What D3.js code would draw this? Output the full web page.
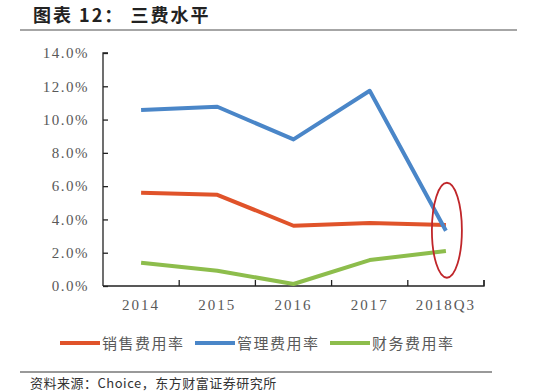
<!DOCTYPE html>
<html>
<head>
<meta charset="utf-8">
<script src="https://cdn.jsdelivr.net/npm/d3@7"></script>
<style>
body { margin: 0; background: #fff; }
</style>
</head>
<body>
<script>
var categories = ["2014", "2015", "2016", "2017", "2018Q3"];
var salesRate = [5.6, 5.48, 3.62, 3.78, 3.66];
var mgmtRate = [10.57, 10.77, 8.81, 11.73, 3.32];
var finRate = [1.4, 0.92, 0.12, 1.56, 2.1];
var yTicks = [0, 2, 4, 6, 8, 10, 12, 14];
var seriesNames = ["销售费用率", "管理费用率", "财务费用率"];
var seriesColors = ["#e0532a", "#4a86c8", "#8dbd4c"];

var width = 550, height = 391;
var plotLeft = 103, plotRight = 484, plotTop = 53, plotBottom = 286;

var svg = d3.select("body")
    .append("svg")
    .attr("width", width)
    .attr("height", height);

// title
svg.append("text")
    .attr("x", 33)
    .attr("y", 22)
    .attr("font-family", "'Noto Sans CJK SC'")
    .attr("font-weight", "bold")
    .attr("font-size", "18px")
    .attr("fill", "#222")
    .attr("letter-spacing", "2px")
    .text("图表 12： 三费水平");

svg.append("line")
    .attr("x1", 20).attr("x2", 517)
    .attr("y1", 30).attr("y2", 30)
    .attr("stroke", "#888")
    .attr("stroke-width", 1.5);

var x = d3.scaleBand()
    .domain(categories)
    .range([plotLeft, plotRight]);

var y = d3.scaleLinear()
    .domain([0, 14])
    .range([plotBottom, plotTop]);

var xAxis = d3.axisBottom(x)
    .tickSize(6)
    .tickSizeOuter(6);

var yAxis = d3.axisLeft(y)
    .tickValues(yTicks)
    .tickSize(-5)
    .tickSizeOuter(-5)
    .tickFormat(function (d) { return d.toFixed(1) + "%"; });

var gx = svg.append("g")
    .attr("transform", "translate(0," + plotBottom + ")")
    .call(xAxis);

// ticks between categories rather than centered
gx.selectAll(".tick line")
    .attr("x1", x.bandwidth() / 2)
    .attr("x2", x.bandwidth() / 2)
    .attr("y2", -6);
gx.select(".domain").attr("d", "M" + plotLeft + ",0H" + plotRight + "V-6");

gx.selectAll("text")
    .attr("y", 13)
    .attr("font-family", "'Liberation Serif'")
    .attr("font-size", "15px")
    .attr("letter-spacing", "2px")
    .attr("fill", "#595959");

var gy = svg.append("g")
    .attr("transform", "translate(" + plotLeft + ",0)")
    .call(yAxis);

gy.select(".domain").attr("d", "M5," + plotTop + "H0V" + plotBottom);

gy.selectAll("text")
    .attr("x", -14)
    .attr("font-family", "'Liberation Serif'")
    .attr("font-size", "15px")
    .attr("letter-spacing", "1.5px")
    .attr("fill", "#595959");

svg.selectAll(".domain, .tick line")
    .attr("stroke", "#222")
    .attr("stroke-width", 1.3);

var line = d3.line()
    .x(function (d, i) { return x(categories[i]) + x.bandwidth() / 2; })
    .y(function (d) { return y(d); });

var series = [salesRate, mgmtRate, finRate];

svg.selectAll(".series")
    .data(series)
    .enter()
    .append("path")
    .attr("class", "series")
    .attr("d", line)
    .attr("fill", "none")
    .attr("stroke", function (d, i) { return seriesColors[i]; })
    .attr("stroke-width", 4)
    .attr("stroke-linejoin", "round");

// red highlight ellipse around the last category
var lastX = x("2018Q3") + x.bandwidth() / 2;
svg.append("ellipse")
    .attr("cx", lastX + 1)
    .attr("cy", y(3.35))
    .attr("rx", 15)
    .attr("ry", 47.5)
    .attr("fill", "none")
    .attr("stroke", "#c0262a")
    .attr("stroke-width", 1.8);

// legend
var legendX = [60, 195, 330];
var legend = svg.selectAll(".legend")
    .data(seriesNames)
    .enter()
    .append("g")
    .attr("transform", function (d, i) { return "translate(" + legendX[i] + ",343)"; });

legend.append("line")
    .attr("x1", 0).attr("x2", 40)
    .attr("stroke", function (d, i) { return seriesColors[i]; })
    .attr("stroke-width", 4);

legend.append("text")
    .attr("x", 42)
    .attr("y", 6)
    .attr("font-family", "'Noto Sans CJK SC'")
    .attr("font-size", "15px")
    .attr("fill", "#595959")
    .attr("letter-spacing", "1.5px")
    .text(function (d) { return d; });

// source
svg.append("line")
    .attr("x1", 20).attr("x2", 492)
    .attr("y1", 372).attr("y2", 372)
    .attr("stroke", "#777")
    .attr("stroke-width", 1.3);

svg.append("text")
    .attr("x", 30)
    .attr("y", 388)
    .attr("font-family", "'Noto Sans CJK SC'")
    .attr("font-size", "13px")
    .attr("fill", "#333")
    .attr("letter-spacing", "0.5px")
    .text("资料来源：Choice，东方财富证券研究所");
</script>
</body>
</html>
